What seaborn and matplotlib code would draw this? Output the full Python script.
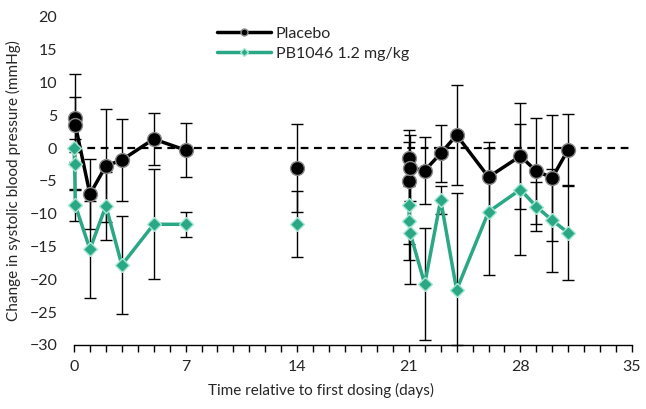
import numpy as np
import pandas as pd
import matplotlib
matplotlib.use("Agg")
import matplotlib.pyplot as plt
from matplotlib.lines import Line2D
import seaborn as sns

# time points (days) and segment id (Excel leaves gaps between 7-14-21)
days = [0, 0.04, 0.08, 1, 2, 3, 5, 7, 14, 21, 21.04, 21.08, 22, 23, 24, 26, 28, 29, 30, 31]
segment = [0, 0, 0, 0, 0, 0, 0, 0, 1, 2, 2, 2, 2, 2, 2, 2, 2, 2, 2, 2]

# no placebo marker is shown at the pre-dose time point
placebo = [np.nan, 4.6, 3.6, -7.0, -2.7, -1.8, 1.4, -0.3, -3.0, -1.5, -5.0, -3.0,
           -3.4, -0.8, 2.0, -4.4, -1.2, -3.5, -4.5, -0.2]
placebo_err = [0, 6.7, 4.2, 5.3, 8.6, 6.3, 3.9, 4.1, 6.7, 4.3, 6.0, 5.0,
               5.1, 4.3, 7.6, 5.3, 8.1, 8.1, 9.6, 5.4]

pb1046 = [0, -2.4, -8.7, -15.4, -8.8, -17.8, -11.6, -11.6, -11.6, -8.7, -11.1, -12.9,
          -20.7, -7.9, -21.6, -9.7, -6.3, -8.9, -11.0, -12.9]
pb1046_err = [0, 3.8, 2.4, 7.4, 5.2, 7.5, 8.4, 1.9, 5.0, 5.9, 6.0, 7.8,
              8.5, 2.1, 14.7, 9.7, 10.0, 3.7, 7.8, 7.2]

series_names = ["Placebo", "PB1046 1.2 mg/kg"]
colors = {"Placebo": "black", "PB1046 1.2 mg/kg": "#2aa886"}
y_min, y_max = -30, 20

df = pd.concat([
    pd.DataFrame({"day": days, "seg": segment, "value": placebo, "err": placebo_err,
                  "group": series_names[0]}),
    pd.DataFrame({"day": days, "seg": segment, "value": pb1046, "err": pb1046_err,
                  "group": series_names[1]}),
], ignore_index=True).dropna(subset=["value"])

sns.set_style("white")
plt.rcParams["font.family"] = ["Lato", "DejaVu Sans"]

fig = plt.figure(figsize=(6.46, 4.09), dpi=100)
ax = fig.add_axes([74 / 646, 1 - 345 / 409, (632 - 74) / 646, (345 - 17) / 409])

ax.axhline(0, color="black", lw=1.6, ls=(0, (3.5, 2.5)), zorder=1)

for name in series_names:
    sub = df[df["group"] == name]
    # the bars stop at the x axis, as Excel does
    lower = np.minimum(sub["err"], sub["value"] - y_min)
    eb = ax.errorbar(sub["day"], sub["value"], yerr=[lower, sub["err"]], fmt="none",
                     ecolor="black", elinewidth=1.0, capsize=4, capthick=1.0, zorder=2)
    for art in list(eb.lines[1]) + list(eb.lines[2]):
        art.set_clip_on(False)

sns.lineplot(data=df[df["group"] == "Placebo"], x="day", y="value", units="seg",
             estimator=None, color="black", lw=2.5, marker="o", markersize=10,
             markeredgecolor="#8a8a8a", markeredgewidth=1.0, ax=ax, zorder=3)
sns.lineplot(data=df[df["group"] == "PB1046 1.2 mg/kg"], x="day", y="value", units="seg",
             estimator=None, color=colors["PB1046 1.2 mg/kg"], lw=2.5, marker="D",
             markersize=7.5, markeredgecolor="#a6e6d2", markeredgewidth=1.0, ax=ax, zorder=4)
for line in ax.lines:
    line.set_clip_on(False)

ax.set_xlim(0, 35)
ax.set_ylim(y_min, y_max)
ax.set_xticks(range(0, 36, 7))
ax.set_xticks(range(0, 36), minor=True)
ax.set_yticks(range(-30, 21, 5))
ax.tick_params(axis="x", which="both", direction="out", length=5, width=1, color="black",
               labelsize=11.5, pad=6, bottom=True)
ax.tick_params(axis="y", length=0, labelsize=11.5, pad=12)
for side in ["top", "right", "left"]:
    ax.spines[side].set_visible(False)
ax.spines["bottom"].set_color("black")
ax.spines["bottom"].set_linewidth(1)
ax.set_xlabel("Time relative to first dosing (days)", fontsize=11)
ax.xaxis.set_label_coords(0.443, -0.117)
ax.set_ylabel("Change in systolic blood pressure (mmHg)", fontsize=11)
ax.yaxis.set_label_coords(-0.095, 0.5)

handles = [
    Line2D([], [], color="black", lw=2.5, marker="o", markersize=5,
           markeredgecolor="#8a8a8a", label=series_names[0]),
    Line2D([], [], color=colors["PB1046 1.2 mg/kg"], lw=2.5, marker="D", markersize=4,
           markeredgecolor="#a6e6d2", label=series_names[1]),
]
ax.legend(handles=handles, loc="upper left", bbox_to_anchor=(0.23, 1.014), frameon=False,
          fontsize=11.5, handlelength=3.4, handletextpad=0.3, labelspacing=0.35)

fig.savefig("out.png", dpi=100)
